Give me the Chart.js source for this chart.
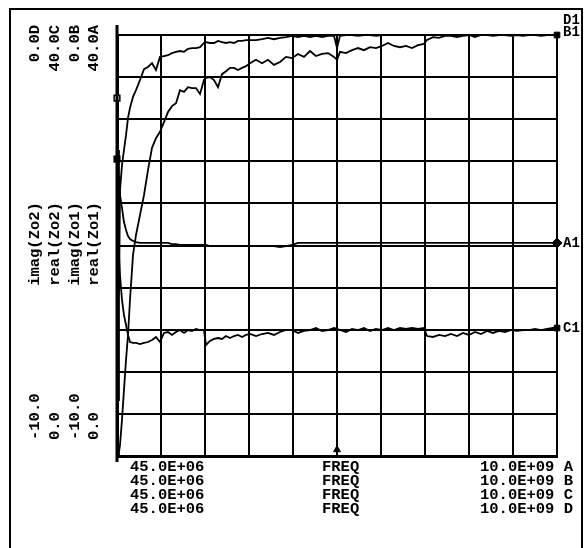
<!DOCTYPE html>
<html>
<head>
<meta charset="utf-8">
<script src="https://cdn.jsdelivr.net/npm/chart.js@4.4.1/dist/chart.umd.min.js"></script>
<style>
  html, body { margin: 0; padding: 0; background: #fff; }
  #wrap { position: relative; width: 584px; height: 548px; overflow: hidden; }
  #chart { position: absolute; left: 0; top: 0; }
  .frame { position: absolute; left: 9px; top: 8px; width: 570px; height: 580px; border: 2px solid #000; }
  .lbl { position: absolute; font-family: "Liberation Mono", monospace; font-weight: bold; font-size: 15.5px; color: #000; white-space: nowrap; line-height: 14px; }
  .vert { writing-mode: vertical-rl; transform: rotate(180deg); }
  .vert.mid { transform: translateY(-50%) rotate(180deg); }
  .vert.bot { transform: translateY(-100%) rotate(180deg); }
  .mark { font-size: 14px; }
</style>
</head>
<body>
<div id="wrap">
  <div class="frame"></div>
  <canvas id="chart" width="584" height="548"></canvas>
</div>
<script>
// frequency in GHz (45 MHz .. 10 GHz)
const freq = [0.045, 0.068, 0.090, 0.113, 0.158, 0.203, 0.249, 0.294, 0.339, 0.407, 0.475, 0.565,
  0.656, 0.746, 0.837, 0.927, 1.018, 1.108, 1.199, 1.289, 1.380, 1.470, 1.561, 1.651, 1.742, 1.832, 1.923, 2.013,
  2.059, 2.149, 2.240, 2.330, 2.421, 2.511, 2.602, 2.692, 2.783, 2.873, 2.964, 3.054,
  3.190, 3.326, 3.461, 3.597, 3.733, 3.869, 4.004, 4.140, 4.276, 4.412, 4.547, 4.683, 4.819, 4.955,
  5.023, 5.090, 5.226, 5.362, 5.498, 5.633, 5.769, 5.905, 6.041, 6.176, 6.312, 6.448, 6.584, 6.719, 6.855, 6.991,
  7.059, 7.195, 7.330, 7.466, 7.602, 7.738, 7.873, 8.009, 8.145, 8.281, 8.416, 8.552, 8.688, 8.824, 8.959,
  9.095, 9.231, 9.367, 9.502, 9.638, 9.774, 9.910, 10.000];

// A: real(Zo1), 0..40
const realZo1 = [30.97, 29.07, 26.70, 24.80, 23.56, 22.23, 21.47, 20.90, 20.62, 20.43, 20.33, 20.24,
  20.24, 20.24, 20.24, 20.24, 20.24, 20.24, 20.24, 20.14, 20.14, 20.05, 20.05, 20.05, 20.05, 20.05, 20.05, 20.05,
  20.05, 19.95, 19.95, 19.95, 19.95, 19.95, 19.95, 19.95, 19.95, 19.95, 19.95, 19.95,
  19.95, 19.95, 19.95, 19.95, 19.86, 19.95, 20.05, 20.24, 20.24, 20.24, 20.24, 20.24, 20.24, 20.24,
  20.24, 20.24, 20.24, 20.24, 20.24, 20.24, 20.24, 20.24, 20.24, 20.24, 20.24, 20.24, 20.24, 20.24, 20.24, 20.24,
  20.24, 20.24, 20.24, 20.24, 20.24, 20.24, 20.24, 20.24, 20.24, 20.24, 20.24, 20.24, 20.24, 20.24, 20.24,
  20.24, 20.24, 20.24, 20.24, 20.24, 20.24, 20.24, 20.24];

// B: imag(Zo1), -10..0
const imagZo1 = [-10.0, -8.67, -6.29, -3.68, -3.09, -2.73, -2.38, -1.97, -1.73, -1.47, -1.31, -1.07,
  -0.81, -0.76, -0.67, -0.83, -0.52, -0.50, -0.48, -0.43, -0.40, -0.38, -0.40, -0.33, -0.31, -0.31, -0.29, -0.19,
  -0.17, -0.19, -0.19, -0.14, -0.17, -0.19, -0.17, -0.19, -0.14, -0.14, -0.12, -0.12,
  -0.12, -0.10, -0.07, -0.10, -0.07, -0.05, -0.02, -0.05, -0.02, -0.05, -0.02, -0.05, -0.02, -0.02,
  -0.31, -0.02, 0.0, 0.0, -0.02, 0.0, 0.0, -0.02, 0.0, 0.0, 0.0, 0.0, 0.0, 0.0, 0.0, 0.0,
  0.0, 0.0, 0.0, 0.0, 0.0, 0.0, 0.0, 0.0, 0.0, 0.0, 0.0, 0.0, 0.0, 0.0, 0.0,
  0.0, 0.0, 0.0, 0.0, 0.0, 0.0, 0.0, 0.0];

// C: real(Zo2), 0..40
const realZo2 = [24.32, 21.47, 19.10, 17.20, 14.82, 13.40, 12.45, 11.50, 10.83, 10.74, 10.74, 10.64,
  10.74, 10.83, 11.02, 11.31, 10.83, 11.69, 11.78, 11.50, 11.78, 11.97, 11.69, 11.97, 11.88, 12.07, 11.97, 11.97,
  10.55, 10.93, 11.12, 11.21, 11.12, 11.40, 11.21, 11.40, 11.50, 11.31, 11.50, 11.59,
  11.40, 11.59, 11.69, 11.50, 11.78, 11.97, 11.97, 11.69, 11.88, 11.97, 12.16, 11.88, 11.97, 12.16,
  12.07, 11.97, 11.78, 12.07, 11.97, 12.16, 11.88, 12.07, 11.97, 12.16, 11.97, 12.16, 12.07, 12.16, 12.07, 12.16,
  11.40, 11.31, 11.50, 11.40, 11.59, 11.40, 11.69, 11.50, 11.78, 11.59, 11.88, 11.69, 11.88, 11.78, 11.97,
  11.88, 11.97, 11.97, 12.07, 11.97, 12.07, 12.16, 12.16];

// D: imag(Zo2), -10..0
const imagZo2 = [-10.0, -10.0, -9.90, -9.74, -9.14, -8.43, -7.72, -7.13, -6.29, -5.23, -4.75, -4.28,
  -3.80, -3.21, -2.68, -2.45, -2.30, -2.07, -1.83, -1.69, -1.62, -1.31, -1.35, -1.24, -1.26, -1.26, -1.40, -1.07,
  -1.02, -1.00, -1.07, -1.24, -0.93, -0.86, -0.78, -0.78, -0.83, -0.78, -0.74, -0.67,
  -0.59, -0.67, -0.59, -0.71, -0.64, -0.52, -0.55, -0.45, -0.52, -0.38, -0.50, -0.45, -0.43, -0.52,
  -0.59, -0.40, -0.43, -0.36, -0.31, -0.36, -0.29, -0.31, -0.26, -0.19, -0.26, -0.29, -0.26, -0.31, -0.24, -0.21,
  -0.12, -0.05, -0.07, -0.02, -0.02, -0.05, -0.02, 0.0, -0.05, 0.0, 0.0, -0.02, 0.0, 0.0, -0.02,
  0.0, -0.02, 0.0, 0.0, -0.02, 0.0, 0.0, 0.0];

// vertical grid positions (10 divisions)
const gridFreqs = [0.045, 1.0405, 2.036, 3.0315, 4.027, 5.0225, 6.018, 7.0135, 8.009, 9.0045, 10.0];

// scale labels, left column (top value, trace name, bottom value)
const topLabels = ['0.0D', '40.0C', '0.0B', '40.0A'];
const traceNames = ['imag(Zo2)', 'real(Zo2)', 'imag(Zo1)', 'real(Zo1)'];
const bottomLabels = ['-10.0', '0.0', '-10.0', '0.0'];
const traceLetters = ['A', 'B', 'C', 'D'];

// left reference markers (on the real(Zo1) scale) and trace end markers
const leftMarkValues = [40.95, 34.0, 28.2, -0.6];
const endA = 20.24, endB = 0.0, endC = 12.16;

function pts(arr) { return freq.map((f, i) => ({ x: f, y: arr[i] })); }

const trace = (data, axis) => ({
  data: pts(data), yAxisID: axis, borderColor: '#000', borderWidth: 1.8,
  pointRadius: 0, tension: 0, fill: false
});

const axisExtend = {
  id: 'axisExtend',
  afterDatasetsDraw(chart) {
    const { ctx, chartArea } = chart;
    ctx.save();
    ctx.strokeStyle = '#000';
    ctx.lineWidth = 3;
    ctx.beginPath();
    ctx.moveTo(chartArea.left, chartArea.top - 10);
    ctx.lineTo(chartArea.left, chartArea.bottom + 6);
    ctx.stroke();
    ctx.restore();
  }
};

const gridOpts = { color: '#000', lineWidth: 2, drawTicks: false };

new Chart(document.getElementById('chart'), {
  type: 'line',
  data: {
    datasets: [
      trace(realZo1, 'yA'),
      trace(imagZo1, 'yB'),
      trace(realZo2, 'yC'),
      trace(imagZo2, 'yD'),
      {
        data: leftMarkValues.map(v => ({ x: freq[0], y: v })), yAxisID: 'yA', showLine: false, clip: false,
        pointStyle: 'rect', pointRadius: 4, borderColor: '#000', borderWidth: 1.5,
        pointBackgroundColor: ['#000', '#fff', '#000', '#fff']
      },
      { data: [{ x: 10, y: endA }], yAxisID: 'yA', showLine: false, clip: false, pointStyle: 'rectRot',
        pointRadius: 5, borderColor: '#000', backgroundColor: '#000' },
      { data: [{ x: 10, y: endB }], yAxisID: 'yB', showLine: false, clip: false, pointStyle: 'rect',
        pointRadius: 4, borderColor: '#000', backgroundColor: '#000' },
      { data: [{ x: 10, y: endC }], yAxisID: 'yC', showLine: false, clip: false, pointStyle: 'rect',
        pointRadius: 4, borderColor: '#000', backgroundColor: '#000' },
      { data: [{ x: 5.023, y: -9.85 }], yAxisID: 'yB', showLine: false, clip: false, pointStyle: 'triangle',
        pointRadius: 4, borderColor: '#000', backgroundColor: '#000' }
    ]
  },
  options: {
    responsive: false,
    animation: false,
    layout: { padding: { left: 117, top: 35, right: 27, bottom: 92 } },
    plugins: { legend: { display: false }, tooltip: { enabled: false } },
    scales: {
      x: {
        type: 'linear', min: 0.045, max: 10,
        afterBuildTicks: s => { s.ticks = gridFreqs.map(v => ({ value: v })); },
        ticks: { display: false }, grid: gridOpts, border: { color: '#000', width: 3 }
      },
      yA: {
        position: 'left', min: 0, max: 40,
        ticks: { display: false, stepSize: 4 }, grid: gridOpts, border: { color: '#000', width: 3 }
      },
      yB: { display: false, min: -10, max: 0 },
      yC: { display: false, min: 0, max: 40 },
      yD: { display: false, min: -10, max: 0 }
    }
  },
  plugins: [axisExtend]
});

// text labels
const wrap = document.getElementById('wrap');
function addLabel(text, cls, left, top) {
  const d = document.createElement('div');
  d.className = 'lbl ' + cls;
  d.textContent = text;
  d.style.left = left + 'px';
  d.style.top = top + 'px';
  wrap.appendChild(d);
}
const colX = [28, 48, 68, 87];
topLabels.forEach((t, i) => addLabel(t, 'vert', colX[i], 25));
traceNames.forEach((t, i) => addLabel(t, 'vert mid', colX[i], 244));
bottomLabels.forEach((t, i) => addLabel(t, 'vert bot', colX[i], 440));

const rowY = [460, 474, 488, 502];
traceLetters.forEach((l, i) => {
  addLabel('45.0E+06', '', 130, rowY[i]);
  addLabel('FREQ', '', 322, rowY[i]);
  addLabel('10.0E+09 ' + l, '', 480, rowY[i]);
});

addLabel('D1', 'mark', 563, 13);
addLabel('B1', 'mark', 563, 25);
addLabel('A1', 'mark', 563, 236);
addLabel('C1', 'mark', 563, 321);
</script>
</body>
</html>
